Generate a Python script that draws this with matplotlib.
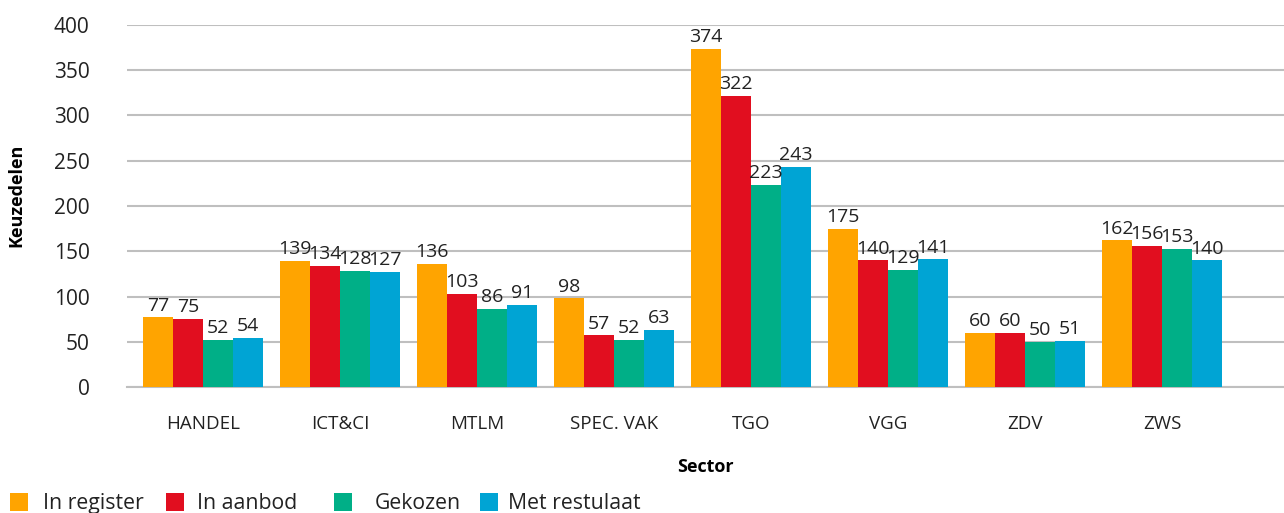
import matplotlib
matplotlib.use("Agg")
import matplotlib.pyplot as plt
from matplotlib.patches import Rectangle
import numpy as np

plt.rcParams['font.family'] = ['Open Sans', 'DejaVu Sans']

categories = ["HANDEL", "ICT&CI", "MTLM", "SPEC. VAK", "TGO", "VGG", "ZDV", "ZWS"]
series_names = ["In register", "In aanbod", "Gekozen", "Met restulaat"]
in_register = [77, 139, 136, 98, 374, 175, 60, 162]
in_aanbod = [75, 134, 103, 57, 322, 140, 60, 156]
gekozen = [52, 128, 86, 52, 223, 129, 50, 153]
met_resultaat = [54, 127, 91, 63, 243, 141, 51, 140]
colors = ["#FFA400", "#E10E1F", "#00AF87", "#00A4D4"]

W, H = 1284, 513
fig = plt.figure(figsize=(W / 100, H / 100), dpi=100)
ax = fig.add_axes([0.0989, 0.2456, 0.9011, 0.7057])

x = np.arange(len(categories))
w = 0.218
all_series = [in_register, in_aanbod, gekozen, met_resultaat]
for i, (vals, c) in enumerate(zip(all_series, colors)):
    pos = x + (i - 1.5) * w
    ax.bar(pos, vals, width=w, color=c, zorder=3)
    for p, v in zip(pos, vals):
        ax.annotate(str(v), (p, v), xytext=(0, 2), textcoords='offset points',
                    ha='center', va='bottom', fontsize=14, color='#222222', zorder=4)

ax.set_ylim(0, 400)
ax.set_yticks(range(0, 401, 50))
ax.set_xlim(-0.555, 7.89)
ax.set_xticks(x)
ax.set_xticklabels(categories, fontsize=13.5)
ax.tick_params(axis='x', length=0, pad=20, colors='#222222')
ax.tick_params(axis='y', length=0, pad=27, labelsize=15, colors='#222222')
ax.grid(axis='y', color='#BFBFBF', linewidth=1.5, zorder=0)
for s in ['top', 'right', 'left']:
    ax.spines[s].set_visible(False)
ax.spines['bottom'].set_color('#BFBFBF')
ax.spines['bottom'].set_linewidth(1.5)

ax.set_xlabel("Sector", fontsize=13, fontweight='bold', labelpad=18)
fig.text(0.013, 0.62, "Keuzedelen", rotation=90, fontsize=13, fontweight='bold',
         ha='center', va='center')

# manual legend (pixel layout)
sq_x = [10, 166, 334, 480]
txt_x = [43, 197, 375, 508]
sq_top, sq_bot = 493, 511
baseline = 509
for sx, tx, c, name in zip(sq_x, txt_x, colors, series_names):
    fig.patches.append(Rectangle((sx / W, 1 - sq_bot / H), 18 / W, (sq_bot - sq_top) / H,
                                 transform=fig.transFigure, facecolor=c, edgecolor='none'))
    fig.text(tx / W, 1 - baseline / H, name, fontsize=15.3, color='#222222',
             ha='left', va='baseline')

fig.savefig("out.png", dpi=100)
